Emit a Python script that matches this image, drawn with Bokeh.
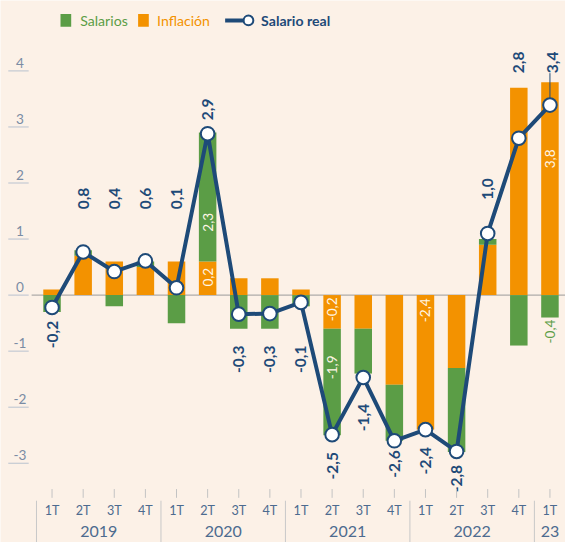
import numpy as np
from bokeh.plotting import figure
from bokeh.models import Range1d, ColumnDataSource
from bokeh.core.properties import value
from bokeh.embed import file_html
from bokeh.resources import INLINE

# ---------------- data ----------------
quarters = ["1T", "2T", "3T", "4T", "1T", "2T", "3T", "4T",
            "1T", "2T", "3T", "4T", "1T", "2T", "3T", "4T", "1T"]
years = ["2019", "2020", "2021", "2022", "23"]
year_first_q = [0, 4, 8, 12, 16]
year_last_q = [3, 7, 11, 15, 16]

inflacion = [0.1, 0.7, 0.6, 0.5, 0.6, 0.6, 0.3, 0.3,
             0.1, -0.6, -0.6, -1.6, -2.4, -1.3, 0.9, 3.7, 3.8]
salarios = [-0.3, 0.1, -0.2, 0.1, -0.5, 2.3, -0.6, -0.6,
            -0.2, -1.9, -0.8, -1.0, 0.0, -1.5, 0.1, -0.9, -0.4]
salario_real = [-0.22, 0.77, 0.42, 0.61, 0.13, 2.88, -0.34, -0.33,
                -0.13, -2.49, -1.47, -2.6, -2.4, -2.79, 1.1, 2.8, 3.39]
real_labels = ["-0,2", "0,8", "0,4", "0,6", "0,1", "2,9", "-0,3", "-0,3",
               "-0,1", "-2,5", "-1,4", "-2,6", "-2,4", "-2,8", "1,0", "2,8", "3,4"]
real_label_pos = [-0.46, 1.53, 1.53, 1.53, 1.53, 3.12, -0.9, -0.9,
                  -0.9, -2.8, -1.94, -2.77, -2.71, -3.03, 1.7, 3.96, 3.96]

inner_idx = [5, 5, 9, 9, 12, 16]
inner_text = ["0,2", "2,3", "-0,2", "-1,9", "-2,4", "3,8"]
inner_pos = [0.32, 1.30, -0.255, -1.29, -0.27, 2.43]
green_note_idx = [16]
green_note_text = ["-0,4"]
green_note_pos = [-0.65]

y_ticks = [-3, -2, -1, 0, 1, 2, 3, 4]

# ---------------- style ----------------
BG = "#fcf1e7"
GREEN = "#5b9d46"
ORANGE = "#f39200"
NAVY = "#1e4a78"
TICK_TXT = "#7a8ca4"
AXIS_TXT = "#4d6b8f"
FONT = "Lato"

FW, FH = 565, 542
RW, RH = 581, 558          # layout designed on a 581x558 canvas, scaled to fit
SC = FH / RH
X0, XS = 53.0, 32.0        # layout pixel of quarter 0, pixels per quarter
Y0, YS = 303.3, 57.7       # layout pixel of value 0, pixels per unit


def rx(px):
    return (px - X0) / XS


def ry(py):
    return (Y0 - py) / YS


def fs(px):
    return "%.1fpx" % (px * SC)


p = figure(width=FW, height=FH, output_backend="svg", toolbar_location=None,
           x_range=Range1d(rx(0), rx(RW)),
           y_range=Range1d(ry(RH), ry(0)),
           min_border=0, min_border_left=0, min_border_right=0,
           min_border_top=0, min_border_bottom=0)
p.background_fill_color = BG
p.border_fill_color = BG
p.outline_line_color = None
p.axis.visible = False
p.grid.visible = False

n = len(quarters)
idx = np.arange(n)
infl = np.array(inflacion)
sal = np.array(salarios)
same = np.sign(sal) == np.sign(infl)
g_bottom = np.where(same, infl, 0.0)
g_top = np.where(same, infl + sal, sal)

BW = 18 / XS

# zero line
p.segment(x0=[rx(32)], y0=[0], x1=[rx(RW)], y1=[0], line_color="#9a9a9a", line_width=1)

# bars
p.vbar(x=idx, width=BW, bottom=0, top=infl, fill_color=ORANGE, line_color=None)
p.vbar(x=idx, width=BW, bottom=g_bottom, top=g_top, fill_color=GREEN, line_color=None)

# inner labels
p.text(x=inner_idx, y=inner_pos, text=inner_text, angle=np.pi / 2,
       text_align="center", text_baseline="middle", text_color="#fff6e6",
       text_font=value(FONT), text_font_size=fs(14))
p.text(x=green_note_idx, y=green_note_pos, text=green_note_text, angle=np.pi / 2,
       text_align="center", text_baseline="middle", text_color=GREEN,
       text_font=value(FONT), text_font_size=fs(14))

# leader for last label
p.segment(x0=[idx[-1]], y0=[salario_real[-1] + 7 / YS], x1=[idx[-1]], y1=[real_label_pos[-1]],
          line_color=NAVY, line_width=1)

# salario real line
p.line(idx, salario_real, line_color=NAVY, line_width=4, line_join="round")
p.scatter(idx, salario_real, size=14 * SC, fill_color="white", line_color=NAVY, line_width=2)

# real labels
rl = np.array(real_label_pos)
pos_mask = np.array(salario_real) > 0
src_pos = ColumnDataSource(dict(x=idx[pos_mask] + np.where(idx[pos_mask] == 16, 0.08, 0.0),
                                y=rl[pos_mask],
                                t=[real_labels[i] for i in idx[pos_mask]]))
src_neg = ColumnDataSource(dict(x=idx[~pos_mask], y=rl[~pos_mask],
                                t=[real_labels[i] for i in idx[~pos_mask]]))
for src, al in ((src_pos, "left"), (src_neg, "right")):
    p.text(x="x", y="y", text="t", source=src, angle=np.pi / 2, text_align=al,
           text_baseline="middle", text_color=NAVY, text_font=value(FONT),
           text_font_size=fs(16), text_font_style="bold")

# y ticks (label above short underline)
p.segment(x0=[rx(8)] * len(y_ticks), y0=y_ticks, x1=[rx(29)] * len(y_ticks), y1=y_ticks,
          line_color="#b9c2cf", line_width=1)
p.text(x=[rx(20)] * len(y_ticks), y=[t + 3 / YS for t in y_ticks],
       text=[str(t) for t in y_ticks], text_align="center", text_baseline="bottom",
       text_color=TICK_TXT, text_font=value(FONT), text_font_size=fs(14))

# x axis: quarter ticks, quarter labels, years, separators
p.segment(x0=idx, y0=[ry(503)] * n, x1=idx, y1=[ry(512)] * n, line_color="#c3c3c3", line_width=1)
p.text(x=idx, y=[ry(525)] * n, text=quarters, text_align="center", text_baseline="middle",
       text_color=AXIS_TXT, text_font=value(FONT), text_font_size=fs(13))
year_x = [(a + b) / 2 for a, b in zip(year_first_q, year_last_q)]
p.text(x=year_x, y=[ry(547)] * len(years), text=years, text_align="center",
       text_baseline="middle", text_color=AXIS_TXT, text_font=value(FONT),
       text_font_size=fs(16.5))
sep_x = [q - 0.5 for q in year_first_q]
p.segment(x0=sep_x, y0=[ry(515)] * len(sep_x), x1=sep_x, y1=[ry(RH)] * len(sep_x),
          line_color="#c8c8c8", line_width=1)

# legend
LY = ry(20.5)
p.rect(x=[rx(67.2), rx(147)], y=[LY, LY], width=11 / XS, height=13 / YS,
       fill_color=[GREEN, ORANGE], line_color=None)
p.text(x=[rx(82), rx(161)], y=[LY, LY], text=["Salarios", "Inflación"],
       text_align="left", text_baseline="middle", text_color=[GREEN, ORANGE],
       text_font=value(FONT), text_font_size=fs(14.5))
p.segment(x0=[rx(231)], y0=[LY], x1=[rx(252)], y1=[LY], line_color=NAVY, line_width=4)
p.scatter(x=[rx(255)], y=[LY], size=10 * SC, fill_color="white", line_color=NAVY, line_width=2)
p.text(x=[rx(268)], y=[LY], text=["Salario real"], text_align="left", text_baseline="middle",
       text_color=NAVY, text_font=value(FONT), text_font_size=fs(14.5), text_font_style="bold")

html = file_html(p, INLINE)
html = html.replace("<body>", '<body style="background:%s">' % BG, 1)
open("out.html", "w").write(html)
